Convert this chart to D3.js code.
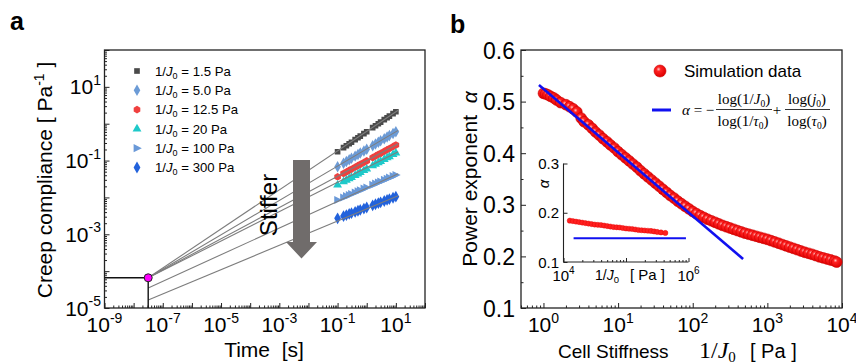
<!DOCTYPE html>
<html><head><meta charset="utf-8">
<script src="https://cdn.jsdelivr.net/npm/d3@7"></script>
<style>
body{margin:0;background:#fff}
svg{display:block}
text{font-family:"Liberation Sans",Arial,Helvetica,sans-serif;fill:#000}
</style>
</head><body>
<svg id="c" width="856" height="364"></svg>
<script>
// ---------------- DATA: panel a (creep compliance) ----------------
const time = [0.1,0.16,0.2,0.25,0.3,0.4,0.5,0.6,0.8,1,1.6,2,2.5,3,4,5,6,8,10];
const seriesNames = ["1.5","5.0","12.5","20","100","300"];
const J_1p5 = [0.174,0.224,0.253,0.286,0.315,0.369,0.416,0.459,0.537,0.606,0.782,0.883,0.997,1.10,1.29,1.45,1.60,1.87,2.11];
const J_5   = [0.068,0.0851,0.0946,0.105,0.115,0.132,0.146,0.160,0.183,0.203,0.254,0.282,0.314,0.343,0.393,0.437,0.476,0.546,0.607];
const J_12p5= [0.0363,0.0445,0.0490,0.0540,0.0583,0.0659,0.0726,0.0785,0.0889,0.098,0.120,0.132,0.146,0.157,0.178,0.196,0.212,0.240,0.264];
const J_20  = [0.0217,0.0267,0.0294,0.0324,0.0350,0.0396,0.0437,0.0473,0.0536,0.059,0.0724,0.0798,0.0879,0.0951,0.108,0.119,0.128,0.146,0.160];
const J_100 = [0.0085,0.00998,0.0108,0.0116,0.0124,0.0136,0.0147,0.0157,0.0173,0.0186,0.0218,0.0236,0.0254,0.0270,0.0298,0.0322,0.0343,0.0378,0.0407];
const J_300 = [0.00272,0.00312,0.00333,0.00356,0.00375,0.00407,0.00435,0.00459,0.00500,0.00533,0.00612,0.00653,0.00698,0.00736,0.00800,0.00855,0.00902,0.00980,0.0105];
// fit lines: from (tau0, start) to (tEnd, end)
const fitT = [3.16e-8, 12];
const fitStartJ = [6.6e-5,6.6e-5,6.6e-5,6.6e-5,3.5e-5,1.65e-5];
const fitEndJ   = [2.33,0.66,0.285,0.173,0.0436,0.0111];
const originT = [3.16e-8];
const originJ = [6.6e-5];
const xExpA = [-9,-8,-7,-6,-5,-4,-3,-2,-1,0,1,2];
const xLabelExpA = [-9,-7,-5,-3,-1,1];
const yExpA = [-5,-4,-3,-2,-1,0,1,2];
const yLabelExpA = [-5,-3,-1,1];

// ---------------- DATA: panel b (power exponent) ----------------
const stiffness = [1.0,1.07,1.15,1.25,1.38,1.5,1.7,2.0,2.25,2.5,2.8,3.2,3.5,4.0,4.5,5.0,5.6,6.3,7.1,7.9,8.9,10,
 11.2,12.6,14.1,15.8,17.8,20,22.4,25.1,28.2,31.6,35.5,39.8,44.7,50.1,56.2,63.1,70.8,79.4,89.1,100,
 112,126,141,158,178,200,224,251,282,316,355,398,447,501,562,631,708,794,891,1000,
 1122,1259,1413,1585,1778,1995,2239,2512,2818,3162,3548,3981,4467,5012,5623,6310,7079,7943,8500];
const alphaSim = [0.516,0.515,0.513,0.510,0.507,0.503,0.498,0.494,0.490,0.486,0.480,
 0.468,0.461,0.455,0.448,0.441,0.435,0.428,0.422,0.416,0.410,0.403,
 0.397,0.391,0.385,0.379,0.373,0.366,0.360,0.354,0.348,0.342,0.336,0.330,0.324,0.318,0.313,0.307,0.302,0.297,0.292,0.287,
 0.283,0.279,0.2755,0.272,0.269,0.266,0.263,0.260,0.2575,0.255,0.2525,0.250,0.2475,0.245,0.243,0.241,0.239,0.237,0.235,0.233,
 0.2305,0.228,0.2255,0.223,0.2205,0.218,0.2155,0.213,0.2105,0.208,0.206,0.204,0.2015,0.199,0.197,0.195,0.193,0.191,0.189];
const fitLineX = [0.87, 473];
const fitLineA = [0.532, 0.195];
const xExpB = [0,1,2,3,4];
const yTicksB = [0.1,0.2,0.3,0.4,0.5,0.6];
// inset
const stiffInset = [12589,14125,15849,17783,19953,22387,25119,28184,31623,35481,39811,44668,50119,56234,63096,70795,79433,89125,100000,
 112202,125893,141254,158489,177828,199526,223872,251189,281838,316228,363000,426000];
const alphaInset = [0.184,0.183,0.182,0.181,0.180,0.179,0.178,0.177,0.176,0.1755,0.175,0.174,0.173,0.172,0.171,0.1705,0.170,0.169,0.168,
 0.1675,0.167,0.166,0.165,0.1645,0.164,0.1635,0.163,0.162,0.161,0.160,0.159];
const insetLineX = [14500, 910000];
const insetLineA = [0.148, 0.148];
const yTicksI = [0.1,0.2,0.3];
const xExpI = [4,5,6];

// ---------------- DRAWING ----------------
const svg = d3.select("#c");
const SERIF = '"Liberation Serif","Times New Roman",serif';
const AX = "#222";

const defs = svg.append("defs");
const rg = defs.append("radialGradient").attr("id","rg").attr("cx","38%").attr("cy","35%").attr("r","65%");
rg.append("stop").attr("offset","0%").attr("stop-color","#ffc4c4");
rg.append("stop").attr("offset","28%").attr("stop-color","#ff2222");
rg.append("stop").attr("offset","100%").attr("stop-color","#dd0000");

function powLabel(g, x, y, exp, anchor, size, sup) {
  const t = g.append("text").attr("x",x).attr("y",y).attr("text-anchor",anchor).style("font-size",size+"px");
  t.append("tspan").text("10");
  t.append("tspan").attr("dy",-size*0.45).style("font-size",sup+"px").text(String(exp));
  return t;
}
function minorsOf(exps) {
  const m = [];
  for (let i=0;i<exps.length-1;i++) for (let k=2;k<=9;k++) m.push(k*Math.pow(10,exps[i]));
  return m;
}
function drawAxis(g, axis, tr) {
  g.append("g").attr("transform",tr).call(axis)
   .call(s=>s.select(".domain").remove())
   .call(s=>s.selectAll("line").attr("stroke",AX).attr("stroke-width",1));
}

// ===== Panel a =====
const xA = d3.scaleLog().domain([1e-9,1e2]).range([104.5,425]);
const yA = d3.scaleLog().domain([1e-5,1e2]).range([308,50]);
const gA = svg.append("g");

svg.append("text").attr("x",10).attr("y",30).style("font-size","25px").style("font-weight","bold").text("a");

const xMajA = xExpA.map(e=>Math.pow(10,e));
const yMajA = yExpA.map(e=>Math.pow(10,e));
drawAxis(gA, d3.axisBottom(xA).tickValues(xMajA).tickSize(-5).tickFormat(""), "translate(0,308)");
drawAxis(gA, d3.axisBottom(xA).tickValues(minorsOf(xExpA)).tickSize(-2.5).tickFormat(""), "translate(0,308)");
drawAxis(gA, d3.axisLeft(yA).tickValues(yMajA).tickSize(-5).tickFormat(""), "translate(104.5,0)");
drawAxis(gA, d3.axisLeft(yA).tickValues(minorsOf(yExpA)).tickSize(-2.5).tickFormat(""), "translate(104.5,0)");
gA.append("rect").attr("x",xA.range()[0]).attr("y",yA.range()[1])
  .attr("width",xA.range()[1]-xA.range()[0]).attr("height",yA.range()[0]-yA.range()[1])
  .attr("fill","none").attr("stroke",AX).attr("stroke-width",1.3);

xLabelExpA.forEach(e=>powLabel(gA, xA(Math.pow(10,e)), 332, e, "middle", 21, 14));
yLabelExpA.forEach(e=>powLabel(gA, 101, yA(Math.pow(10,e))+7.5, e, "end", 21, 14));

gA.append("text").attr("x",264).attr("y",357).attr("text-anchor","middle").style("font-size","21px")
  .style("white-space","pre").text("Time  [s]");
const yt = gA.append("text").attr("transform","translate(52,180) rotate(-90)").attr("text-anchor","middle")
  .style("font-size","21px").style("white-space","pre");
yt.append("tspan").text("Creep compliance [ Pa");
yt.append("tspan").attr("dy",-8).style("font-size","14px").text("-1");
yt.append("tspan").attr("dy",8).text(" ]");

const hexSym = {draw(ctx,size){const r=Math.sqrt(size/2.598);for(let i=0;i<6;i++){const a=Math.PI/6+i*Math.PI/3;const px=r*Math.cos(a),py=r*Math.sin(a);i?ctx.lineTo(px,py):ctx.moveTo(px,py);}ctx.closePath();}};
const triRight = {draw(ctx,size){const h=Math.sqrt(size)*0.8;ctx.moveTo(h*1.0,0);ctx.lineTo(-h*0.7,-h*0.85);ctx.lineTo(-h*0.7,h*0.85);ctx.closePath();}};
const seriesData = [J_1p5,J_5,J_12p5,J_20,J_100,J_300];
const seriesColor = ["#4a4a4a","#6c9bd6","#f0403f","#1ec9c9","#6a99d8","#2262dc"];
const seriesSym = [d3.symbolSquare,d3.symbolDiamond,hexSym,d3.symbolTriangle,triRight,d3.symbolDiamond];
const seriesSize = [32,38,38,34,36,40];

const clipA = defs.append("clipPath").attr("id","clipA");
clipA.append("rect").attr("x",104.5).attr("y",50).attr("width",320.5).attr("height",258);

const plotA = gA.append("g").attr("clip-path","url(#clipA)");
seriesData.forEach((arr,si)=>{
  const sym = d3.symbol().type(seriesSym[si]).size(seriesSize[si]);
  plotA.append("g").selectAll("path").data(arr).join("path")
    .attr("transform",(d,i)=>`translate(${xA(time[i])},${yA(d)})`)
    .attr("d",sym()).attr("fill",seriesColor[si]);
});
const lineA = d3.line().x(d=>xA(d[0])).y(d=>yA(d[1]));
fitStartJ.forEach((s,i)=>{
  plotA.append("path").attr("d",lineA([[fitT[0],s],[fitT[1],fitEndJ[i]]]))
    .attr("fill","none").attr("stroke","#7d7d7d").attr("stroke-width",1.1);
});
plotA.append("path").attr("d",lineA([[1e-9,originJ[0]],[originT[0],originJ[0]],[originT[0],1e-5]]))
  .attr("fill","none").attr("stroke","#111").attr("stroke-width",1.4);
plotA.append("circle").attr("cx",xA(originT[0])).attr("cy",yA(originJ[0])).attr("r",4)
  .attr("fill","#ff00ff").attr("stroke","#222").attr("stroke-width",1);

// legend a
const legA = gA.append("g");
seriesNames.forEach((n,i)=>{
  const y = 71 + i*19.3;
  const sym = d3.symbol().type(seriesSym[i]).size(seriesSize[i]);
  legA.append("path").attr("transform",`translate(137,${y})`).attr("d",sym()).attr("fill",seriesColor[i]);
  const t = legA.append("text").attr("x",155).attr("y",y+4.8).style("font-size","13.2px");
  t.append("tspan").text("1/");
  t.append("tspan").style("font-style","italic").text("J");
  t.append("tspan").attr("dy",3).style("font-size","9px").text("0");
  t.append("tspan").attr("dy",-3).text(" = "+n+" Pa");
});

// Stiffer arrow
gA.append("path").attr("d","M293,160 L310,160 L310,242 L317,242 L301.5,258.5 L286,242 L293,242 Z").attr("fill","#706c6b");
gA.append("text").attr("transform","translate(277,205) rotate(-90)").attr("text-anchor","middle")
  .style("font-size","24px").text("Stiffer");

// ===== Panel b =====
const xB = d3.scaleLog().domain([0.5,1e4]).range([521,842]);
const yB = d3.scaleLinear().domain([0.1,0.6]).range([308,50]);
const gB = svg.append("g");
svg.append("text").attr("x",450).attr("y",33).style("font-size","25px").style("font-weight","bold").text("b");

const xMajB = xExpB.map(e=>Math.pow(10,e));
const xMinB = [0.5,0.6,0.7,0.8,0.9].concat(minorsOf(xExpB));
drawAxis(gB, d3.axisBottom(xB).tickValues(xMajB).tickSize(-5).tickFormat(""), "translate(0,308)");
drawAxis(gB, d3.axisBottom(xB).tickValues(xMinB).tickSize(-2.5).tickFormat(""), "translate(0,308)");
drawAxis(gB, d3.axisLeft(yB).tickValues(yTicksB).tickSize(-5).tickFormat(""), "translate(521,0)");
drawAxis(gB, d3.axisLeft(yB).tickValues([0.15,0.25,0.35,0.45,0.55]).tickSize(-2.5).tickFormat(""), "translate(521,0)");
gB.append("rect").attr("x",521).attr("y",50).attr("width",321).attr("height",258)
  .attr("fill","none").attr("stroke",AX).attr("stroke-width",1.3);

yTicksB.forEach(v=>gB.append("text").attr("x",515).attr("y",yB(v)+8.5).attr("text-anchor","end")
  .style("font-size","23px").text(v.toFixed(1)));
xExpB.forEach(e=>powLabel(gB, xB(Math.pow(10,e)), 332, e, "middle", 21, 14));

const yb = gB.append("text").attr("transform","translate(477,179) rotate(-90)").attr("text-anchor","middle")
  .style("font-size","21px").style("white-space","pre");
yb.append("tspan").text("Power exponent  ");
yb.append("tspan").style("font-style","italic").text("α");

gB.append("text").attr("x",558).attr("y",358).style("font-size","19px").text("Cell Stiffness");
const xbJ = gB.append("text").attr("x",699).attr("y",358).style("font-size","24px").style("font-family",SERIF);
xbJ.append("tspan").text("1/");
xbJ.append("tspan").style("font-style","italic").text("J");
xbJ.append("tspan").attr("dy",4).style("font-size","15px").text("0");
gB.append("text").attr("x",750).attr("y",358).style("font-size","20px").style("white-space","pre").text("[ Pa ]");

// inset
const xI = d3.scaleLog().domain([1e4,1e6]).range([563.5,688.5]);
const yI = d3.scaleLinear().domain([0.1,0.3]).range([262,163.5]);
const gI = gB.append("g");
gI.append("path").attr("d",`M${xI.range()[0]},${yI.range()[1]} V${yI.range()[0]} H${xI.range()[1]}`)
  .attr("fill","none").attr("stroke",AX).attr("stroke-width",1.1);
drawAxis(gI, d3.axisBottom(xI).tickValues(xExpI.map(e=>Math.pow(10,e))).tickSize(-4).tickFormat(""), "translate(0,262)");
drawAxis(gI, d3.axisBottom(xI).tickValues(minorsOf(xExpI)).tickSize(-2).tickFormat(""), "translate(0,262)");
drawAxis(gI, d3.axisLeft(yI).tickValues(yTicksI).tickSize(-4).tickFormat(""), "translate(563.5,0)");
yTicksI.forEach(v=>gI.append("text").attr("x",559).attr("y",yI(v)+5.5).attr("text-anchor","end")
  .style("font-size","15px").text(v.toFixed(1)));
[4,6].forEach(e=>powLabel(gI, xI(Math.pow(10,e)), 281, e, "middle", 15, 10));
const xi = gI.append("text").attr("x",595).attr("y",280).style("font-size","14px");
xi.append("tspan").text("1/");
xi.append("tspan").style("font-style","italic").text("J");
xi.append("tspan").attr("dy",3).style("font-size","9.5px").text("0");
gI.append("text").attr("x",630).attr("y",280).style("font-size","15px").style("white-space","pre").text("[ Pa ]");
gI.append("text").attr("transform","translate(549,184) rotate(-90)").attr("text-anchor","middle")
  .style("font-size","15px").style("font-style","italic").text("α");

gI.selectAll("circle.ins").data(alphaInset).join("circle").attr("class","ins")
  .attr("cx",(d,i)=>xI(stiffInset[i])).attr("cy",d=>yI(d)).attr("r",2.6)
  .attr("fill","#ff2020").attr("stroke","#e00000").attr("stroke-width",0.4);
gI.append("path").attr("d",d3.line().x(d=>xI(d[0])).y(d=>yI(d[1]))(insetLineX.map((x,i)=>[x,insetLineA[i]])))
  .attr("stroke","#1010f0").attr("stroke-width",2).attr("fill","none");

// main data
gB.append("g").selectAll("circle").data(alphaSim).join("circle")
  .attr("cx",(d,i)=>xB(stiffness[i])).attr("cy",d=>yB(d)).attr("r",5.4)
  .attr("fill","url(#rg)").attr("stroke","#cc0000").attr("stroke-width",0.6);
gB.append("path").attr("d",d3.line().x(d=>xB(d[0])).y(d=>yB(d[1]))(fitLineX.map((x,i)=>[x,fitLineA[i]])))
  .attr("stroke","#1010f0").attr("stroke-width",2.6).attr("fill","none");

// legend b
gB.append("circle").attr("cx",660).attr("cy",71).attr("r",6).attr("fill","url(#rg)").attr("stroke","#cc0000").attr("stroke-width",0.6);
gB.append("text").attr("x",684).attr("y",77).style("font-size","17px").text("Simulation data");
gB.append("line").attr("x1",652).attr("x2",671).attr("y1",110).attr("y2",110).attr("stroke","#1010f0").attr("stroke-width",3);

const fg = gB.append("g").style("font-family",SERIF);
function ftext(x,y,anchor,parts){
  const t = fg.append("text").attr("x",x).attr("y",y).attr("text-anchor",anchor).style("font-size","15px").style("font-family",SERIF);
  parts.forEach(p=>{
    const s = t.append("tspan").text(p.t);
    if (p.i) s.style("font-style","italic");
    if (p.sub) s.attr("dy",3).style("font-size","9.5px");
    if (p.up) s.attr("dy",-3);
  });
}
ftext(682,115,"start",[{t:"α",i:1},{t:" = −"}]);
ftext(744,104,"middle",[{t:"log(1/"},{t:"J",i:1},{t:"0",sub:1},{t:")",up:1}]);
ftext(743,126,"middle",[{t:"log(1/"},{t:"τ",i:1},{t:"0",sub:1},{t:")",up:1}]);
ftext(777,115,"middle",[{t:"+"}]);
ftext(807,104,"middle",[{t:"log("},{t:"j",i:1},{t:"0",sub:1},{t:")",up:1}]);
ftext(807,126,"middle",[{t:"log("},{t:"τ",i:1},{t:"0",sub:1},{t:")",up:1}]);
fg.append("line").attr("x1",716).attr("x2",772).attr("y1",109.5).attr("y2",109.5).attr("stroke","#000").attr("stroke-width",0.8);
fg.append("line").attr("x1",785).attr("x2",830).attr("y1",109.5).attr("y2",109.5).attr("stroke","#000").attr("stroke-width",0.8);
</script>
</body></html>
